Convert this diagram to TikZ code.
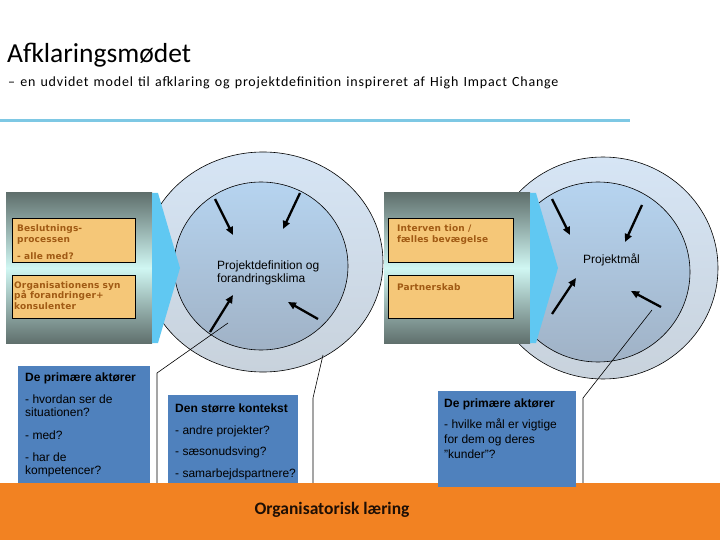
\documentclass[tikz,border=0pt]{standalone}
\usepackage{fontspec}
\setmainfont{Liberation Sans}
\newfontfamily\calfont{Carlito}
\newfontfamily\calspaced{Carlito}[LetterSpace=5.7, WordSpace=1.3]
\newfontfamily\pixfont{DejaVu Sans}[LetterSpace=1.5]
\usetikzlibrary{arrows.meta}
\definecolor{rulecol}{RGB}{126,200,228}
\definecolor{blockdark}{RGB}{96,112,109}
\definecolor{blocklight}{RGB}{208,247,243}
\definecolor{chevron}{RGB}{96,200,242}
\definecolor{obox}{RGB}{245,199,120}
\definecolor{otext}{RGB}{160,90,20}
\definecolor{bbox}{RGB}{79,129,189}
\definecolor{band}{RGB}{242,130,34}
\definecolor{outertop}{RGB}{214,229,245}
\definecolor{outerbot}{RGB}{200,210,220}
\definecolor{innertop}{RGB}{182,212,240}
\definecolor{innerbot}{RGB}{160,178,198}
\tikzset{
  orangebox/.style={draw=black, line width=0.6pt, fill=obox, minimum width=123, minimum height=44, anchor=north west, inner sep=0pt},
  otxt/.style={anchor=base west, inner sep=0pt, text=otext, font=\pixfont\bfseries\fontsize{9}{10}\selectfont},
  bluebox/.style={fill=bbox, draw=none, anchor=north west, inner sep=0pt},
  btxt/.style={anchor=base west, inner sep=0pt, font=\fontsize{12}{14}\selectfont},
  bhead/.style={btxt, font=\bfseries\fontsize{12}{14}\selectfont},
  ctxt/.style={anchor=base west, inner sep=0pt, font=\fontsize{12}{14}\selectfont},
  bigarrow/.style={line width=2.3pt, -{Triangle[length=8pt,width=7pt]}},
  callout/.style={line width=0.6pt},
  ringout/.style={draw=black, line width=0.6pt, top color=outertop, bottom color=outerbot},
  ringin/.style={draw=black, line width=0.6pt, top color=innertop, bottom color=innerbot},
  gradblock/.style={top color=blockdark, bottom color=blockdark, middle color=blocklight},
}
\begin{document}
\begin{tikzpicture}[x=1pt,y=-1pt]
\useasboundingbox (0,0) rectangle (720,540);
\fill[white] (0,0) rectangle (720,540);

% title
\node[anchor=base west, inner sep=0pt, font=\calfont\fontsize{27.5}{32}\selectfont] (title) at (7,63) {Afklaringsmødet};
\node[anchor=base west, inner sep=0pt, font=\calspaced\fontsize{14}{16}\selectfont] (subtitle) at (8,87) {– en udvidet model til afklaring og projektdefinition inspireret af High Impact Change};
\draw[line width=3pt, rulecol] (0,121) -- (630,121);

% circles
\path[ringout] (263,262) ellipse [x radius=120, y radius=110];
\path[ringin] (261,266) ellipse [x radius=87, y radius=84];
\path[ringout] (603,268) ellipse [x radius=115, y radius=111];
\path[ringin] (598,272) ellipse [x radius=92, y radius=90];

% left block
\path[gradblock] (6,193) rectangle (152,343);
\fill[chevron] (152,193) -- (158,193) -- (180,268) -- (158,343) -- (152,343) -- cycle;
\node[orangebox] (lb1) at (12,218) {};
\node[orangebox, minimum height=43] (lb2) at (12,275) {};
\node[otxt] (lt1) at (17,232) {Beslutnings-};
\node[otxt] (lt2) at (17,243) {processen};
\node[otxt] (lt3) at (17,259) {- alle med?};
\node[otxt] (lt4) at (14,288) {Organisationens syn};
\node[otxt] (lt5) at (14,298) {på forandringer+};
\node[otxt] (lt6) at (14,309) {konsulenter};

% right block
\path[gradblock] (384,193) rectangle (530,343);
\fill[chevron] (530,193) -- (536,193) -- (558,268) -- (536,343) -- (530,343) -- cycle;
\node[orangebox, minimum width=125] (rb1) at (388,218) {};
\node[orangebox, minimum width=125, minimum height=43] (rb2) at (388,275) {};
\node[otxt] (rt1) at (397,231) {Interven tion /};
\node[otxt] (rt2) at (397,243) {fælles bevægelse};
\node[otxt] (rt3) at (397,290) {Partnerskab};

% circle texts
\node[ctxt] (ct1) at (217,269) {Projektdefinition og};
\node[ctxt] (ct2) at (217,282) {forandringsklima};
\node[ctxt] (ct3) at (583,263) {Projektmål};

% arrows left
\coordinate (a1s) at (215,199); \coordinate (a1e) at (233,235);
\coordinate (a2s) at (300,193); \coordinate (a2e) at (283,229);
\coordinate (a3s) at (210,332); \coordinate (a3e) at (233,295);
\coordinate (a4s) at (318,319); \coordinate (a4e) at (288,302);
\draw[bigarrow] (a1s) -- (a1e);
\draw[bigarrow] (a2s) -- (a2e);
\draw[bigarrow] (a3s) -- (a3e);
\draw[bigarrow] (a4s) -- (a4e);
% arrows right
\coordinate (b1s) at (552,199); \coordinate (b1e) at (570,235);
\coordinate (b2s) at (642,205); \coordinate (b2e) at (625,242);
\coordinate (b3s) at (552,314); \coordinate (b3e) at (576,278);
\coordinate (b4s) at (661,307); \coordinate (b4e) at (631,291);
\draw[bigarrow] (b1s) -- (b1e);
\draw[bigarrow] (b2s) -- (b2e);
\draw[bigarrow] (b3s) -- (b3e);
\draw[bigarrow] (b4s) -- (b4e);

% blue boxes (left, middle)
\node[bluebox, minimum width=132, minimum height=117] (bb1) at (18,366) {};
\node[bluebox, minimum width=130, minimum height=88] (bb2) at (168,395) {};

% callouts
\coordinate (c1s) at (228,323); \coordinate (c1k) at (157,373); \coordinate (c1e) at (157,483);
\coordinate (c2s) at (323,355); \coordinate (c2k) at (313,398); \coordinate (c2e) at (313,483);
\coordinate (c3s) at (652,310); \coordinate (c3k) at (583,398); \coordinate (c3e) at (583,487);
\draw[callout] (c1s) -- (c1k) -- (c1e);
\draw[callout] (c2s) -- (c2k) -- (c2e);
\draw[callout] (c3s) -- (c3k) -- (c3e);

% band
\fill[band] (0,483) rectangle (720,540);
\node[inner sep=0pt, font=\calfont\bfseries\fontsize{17.5}{20}\selectfont, text={rgb,255:red,30;green,15;blue,5}] (band) at (332,510) {Organisatorisk læring};

% right blue box
\node[bluebox, minimum width=138, minimum height=96] (bb3) at (438,391) {};

% blue box texts
\node[bhead] (h1) at (25,381) {De primære aktører};
\node[btxt] at (25,403) {- hvordan ser de};
\node[btxt] at (25,416) {situationen?};
\node[btxt] at (25,439) {- med?};
\node[btxt] at (25,461) {- har de};
\node[btxt] at (25,474) {kompetencer?};

\node[bhead] (h2) at (175,412) {Den større kontekst};
\node[btxt] at (175,434) {- andre projekter?};
\node[btxt] at (175,455) {- sæsonudsving?};
\node[btxt] at (175,477) {- samarbejdspartnere?};

\node[bhead] (h3) at (444,407) {De primære aktører};
\node[btxt] at (444,428) {- hvilke mål er vigtige};
\node[btxt] at (444,443) {for dem og deres};
\node[btxt] at (444,458) {"kunder"?};
\end{tikzpicture}
\end{document}
